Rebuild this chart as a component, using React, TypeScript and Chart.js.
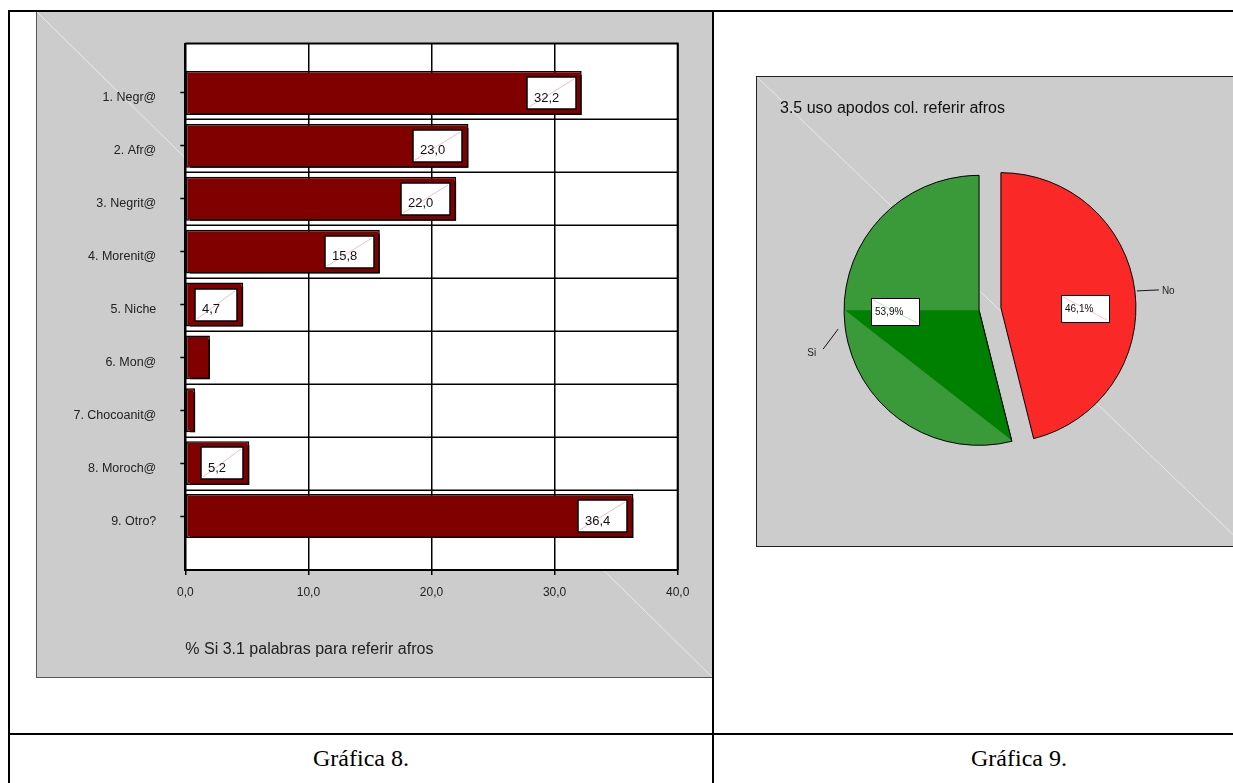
import React, { useEffect, useRef } from 'react';
import { Chart, registerables } from 'chart.js';

Chart.register(...registerables);

// ---- Gráfica 8: palabras para referir afros (% Sí) ----
const barCategories = [
  '1. Negr@',
  '2. Afr@',
  '3. Negrit@',
  '4. Morenit@',
  '5. Niche',
  '6. Mon@',
  '7. Chocoanit@',
  '8. Moroch@',
  '9. Otro?',
];
const barValues = [32.2, 23.0, 22.0, 15.8, 4.7, 2.0, 0.8, 5.2, 36.4];
const barTicks = [0, 10, 20, 30, 40];
const barAxisTitle = '% Si 3.1 palabras para referir afros';

// ---- Gráfica 9: uso de apodos ----
const pieLabels = ['No', 'Si'];
const pieValues = [46.1, 53.9];
const pieColors = ['#fb2828', '#3a9a3a'];
const pieShades = ['#ff0000', '#008000'];
const pieTitle = '3.5 uso apodos col. referir afros';

const captions = ['Gráfica 8.', 'Gráfica 9.'];

const SANS = '"Liberation Sans", Arial, Helvetica, sans-serif';
const SERIF = '"Liberation Serif", "Times New Roman", Times, serif';

const fmt = (v: number) => v.toFixed(1).replace('.', ',');

// Grey panel diagonal, white plot area and its frame
const barFrame = {
  id: 'barFrame',
  beforeDraw(chart: any) {
    const { ctx, chartArea: a, width, height } = chart;
    ctx.save();
    ctx.strokeStyle = 'rgba(255,255,255,0.55)';
    ctx.lineWidth = 1;
    ctx.beginPath();
    ctx.moveTo(0, 0);
    ctx.lineTo(width, height);
    ctx.stroke();
    ctx.fillStyle = '#ffffff';
    ctx.fillRect(a.left, a.top, a.right - a.left, a.bottom - a.top);
    ctx.restore();
  },
  afterDraw(chart: any) {
    const { ctx, chartArea: a } = chart;
    ctx.save();
    ctx.strokeStyle = '#000';
    ctx.lineWidth = 2;
    ctx.beginPath();
    ctx.moveTo(a.left, a.top);
    ctx.lineTo(a.right, a.top);
    ctx.lineTo(a.right, a.bottom);
    ctx.stroke();
    ctx.restore();
  },
};

// Horizontal rules between the category rows
const rowRules = {
  id: 'rowRules',
  beforeDatasetsDraw(chart: any) {
    const { ctx, chartArea: a, scales } = chart;
    const y = scales.y;
    ctx.save();
    ctx.strokeStyle = '#000';
    ctx.lineWidth = 1.5;
    for (let i = 0; i < barCategories.length - 1; i++) {
      const py = Math.round(y.getPixelForValue(i + 0.5)) + 0.25;
      ctx.beginPath();
      ctx.moveTo(a.left, py);
      ctx.lineTo(a.right, py);
      ctx.stroke();
    }
    ctx.restore();
  },
};

// Solid black drop shadow under the bars
const barShadow = {
  id: 'barShadow',
  beforeDatasetDraw(chart: any) {
    const ctx = chart.ctx;
    ctx.save();
    ctx.shadowColor = '#000';
    ctx.shadowOffsetX = 4;
    ctx.shadowOffsetY = 4;
    ctx.shadowBlur = 0;
  },
  afterDatasetDraw(chart: any) {
    chart.ctx.restore();
  },
};

// Boxed value labels inside the bar ends
const valueBoxes = {
  id: 'valueBoxes',
  afterDatasetsDraw(chart: any) {
    const { ctx } = chart;
    const meta = chart.getDatasetMeta(0);
    ctx.save();
    ctx.font = `13px ${SANS}`;
    meta.data.forEach((bar: any, i: number) => {
      const { x, y, base } = bar.getProps(['x', 'y', 'base'], true);
      const text = fmt(barValues[i]);
      const w = Math.round(ctx.measureText(text).width + 24);
      const h = 32;
      if (x - base < w + 14) return;
      const right = Math.round(x - 6);
      const left = right - w;
      const top = Math.round(y - h / 2);
      ctx.fillStyle = '#fff';
      ctx.fillRect(left, top, w, h);
      ctx.strokeStyle = 'rgba(215,110,120,0.55)';
      ctx.lineWidth = 0.8;
      ctx.beginPath();
      ctx.moveTo(left + 2, top + h - 2);
      ctx.lineTo(left + w - 2, top + 2);
      ctx.stroke();
      ctx.strokeStyle = '#000';
      ctx.lineWidth = 1.5;
      ctx.strokeRect(left, top, w, h);
      ctx.fillStyle = '#111';
      ctx.textAlign = 'left';
      ctx.textBaseline = 'middle';
      ctx.fillText(text, left + 7, y + 5);
    });
    ctx.restore();
  },
};

const EXPLODE = 11;

// Pie panel diagonal and title
const pieFrame = {
  id: 'pieFrame',
  beforeDraw(chart: any) {
    const { ctx, width, height } = chart;
    ctx.save();
    ctx.strokeStyle = 'rgba(255,255,255,0.55)';
    ctx.lineWidth = 1;
    ctx.beginPath();
    ctx.moveTo(0, 0);
    ctx.lineTo(width, height);
    ctx.stroke();
    ctx.fillStyle = '#111';
    ctx.font = `16px ${SANS}`;
    ctx.textAlign = 'left';
    ctx.textBaseline = 'middle';
    ctx.fillText(pieTitle, 23, 32);
    ctx.restore();
  },
};

// Exploded slices, with the darker shading wedge of the slice crossing 9 o'clock
const explodedSlices = {
  id: 'explodedSlices',
  beforeDatasetDraw(chart: any, args: any) {
    const { ctx } = chart;
    args.meta.data.forEach((arc: any, i: number) => {
      const { x, y, startAngle, endAngle, outerRadius } = arc.getProps(
        ['x', 'y', 'startAngle', 'endAngle', 'outerRadius'],
        true
      );
      const mid = (startAngle + endAngle) / 2;
      ctx.save();
      ctx.translate(Math.cos(mid) * EXPLODE, Math.sin(mid) * EXPLODE);
      arc.draw(ctx);
      if (startAngle < Math.PI && endAngle > Math.PI) {
        const sx = x + Math.cos(startAngle) * (outerRadius - 1);
        const sy = y + Math.sin(startAngle) * (outerRadius - 1);
        ctx.fillStyle = pieShades[i];
        ctx.beginPath();
        ctx.moveTo(x, y);
        ctx.lineTo(sx, sy);
        ctx.lineTo(x - outerRadius + 1, y);
        ctx.closePath();
        ctx.fill();
        ctx.strokeStyle = '#000';
        ctx.lineWidth = 1;
        ctx.beginPath();
        ctx.moveTo(x, y);
        ctx.lineTo(x + Math.cos(startAngle) * outerRadius, y + Math.sin(startAngle) * outerRadius);
        ctx.stroke();
      }
      ctx.restore();
    });
    return false;
  },
};

// Percentage boxes, leader lines and category names
const pieLabelsPlugin = {
  id: 'pieLabels',
  afterDatasetsDraw(chart: any) {
    const { ctx } = chart;
    const meta = chart.getDatasetMeta(0);
    const total = pieValues.reduce((s, v) => s + v, 0);
    ctx.save();
    meta.data.forEach((arc: any, i: number) => {
      const { x, y, startAngle, endAngle, outerRadius } = arc.getProps(
        ['x', 'y', 'startAngle', 'endAngle', 'outerRadius'],
        true
      );
      const mid = (startAngle + endAngle) / 2;
      const cos = Math.cos(mid);
      const sin = Math.sin(mid);
      const cx = x + cos * EXPLODE;
      const cy = y + sin * EXPLODE;

      // value box, level with the slice apex
      const text = fmt((pieValues[i] / total) * 100) + '%';
      const bw = 48;
      const bh = 27;
      const bx = Math.round(cx + cos * outerRadius * 0.63 - bw / 2);
      const by = Math.round(cy + 1 - bh / 2);
      ctx.fillStyle = '#fff';
      ctx.fillRect(bx, by, bw, bh);
      ctx.strokeStyle = i === 0 ? 'rgba(240,120,120,0.6)' : 'rgba(100,180,100,0.6)';
      ctx.lineWidth = 0.7;
      ctx.beginPath();
      ctx.moveTo(bx + 2, by + 2);
      ctx.lineTo(bx + bw - 2, by + bh - 2);
      ctx.stroke();
      ctx.strokeStyle = '#000';
      ctx.lineWidth = 1;
      ctx.strokeRect(bx + 0.5, by + 0.5, bw, bh);
      ctx.fillStyle = '#111';
      ctx.font = `10px ${SANS}`;
      ctx.textAlign = 'left';
      ctx.textBaseline = 'middle';
      ctx.fillText(text, bx + 4, by + bh / 2 + 1);

      // leader line and name
      const ex = cx + cos * (outerRadius + 2);
      const ey = cy + sin * (outerRadius + 2);
      const right = cos >= 0;
      const lx = right ? ex + 22 : ex - 20;
      const ly = right ? ey - 1 : ey + 22;
      ctx.strokeStyle = '#111';
      ctx.lineWidth = 1;
      ctx.beginPath();
      ctx.moveTo(right ? ex : ex - 5, right ? ey : ey + 2);
      ctx.lineTo(lx, ly);
      ctx.stroke();
      ctx.fillStyle = '#222';
      ctx.textAlign = right ? 'left' : 'right';
      ctx.fillText(pieLabels[i], right ? lx + 3 : lx - 7, right ? ly + 1 : ly + 4);
    });
    ctx.restore();
  },
};

function BarChart() {
  const ref = useRef<HTMLCanvasElement | null>(null);
  useEffect(() => {
    if (!ref.current) return;
    const chart = new Chart(ref.current, {
      type: 'bar',
      data: {
        datasets: [
          {
            data: barValues.map((v, i) => ({ x: v, y: i })),
            backgroundColor: '#800000',
            borderColor: '#000',
            borderWidth: 1.5,
            borderSkipped: false,
            barPercentage: 0.83,
            categoryPercentage: 1,
          } as any,
        ],
      },
      options: {
        indexAxis: 'y',
        animation: false,
        responsive: false,
        maintainAspectRatio: false,
        layout: { padding: { left: 0, top: 31, right: 34.3, bottom: 7 } },
        plugins: { legend: { display: false }, tooltip: { enabled: false } },
        scales: {
          x: {
            type: 'linear',
            position: 'bottom',
            min: 0,
            max: 40,
            offset: false,
            afterBuildTicks: (axis: any) => {
              axis.ticks = barTicks.map((v) => ({ value: v }));
            },
            afterFit: (axis: any) => {
              axis.height = 100;
            },
            ticks: {
              callback: (v: any) => fmt(Number(v)),
              font: { family: SANS, size: 12 },
              color: '#222',
              padding: 10.8,
              maxRotation: 0,
              autoSkip: false,
            },
            grid: {
              offset: false,
              color: '#000',
              lineWidth: 1.5,
              tickLength: 5,
              tickColor: '#000',
              tickWidth: 1.5,
            },
            border: { display: true, color: '#000', width: 2 },
            title: {
              display: true,
              text: barAxisTitle,
              align: 'start',
              font: { family: SANS, size: 16 },
              color: '#222',
              padding: { top: 0, bottom: 10.4 },
            },
          },
          y: {
            type: 'linear',
            reverse: true,
            offset: false,
            min: -0.935,
            max: 9.02,
            afterBuildTicks: (axis: any) => {
              axis.ticks = barCategories.map((_, i) => ({ value: i }));
            },
            afterFit: (axis: any) => {
              axis.width = 148.3;
            },
            ticks: {
              callback: (v: any) => barCategories[Number(v)] ?? '',
              font: { family: SANS, size: 12.5 },
              color: '#222',
              padding: 24,
              labelOffset: 5,
              autoSkip: false,
            },
            grid: {
              offset: false,
              drawOnChartArea: false,
              drawTicks: true,
              tickLength: 5,
              tickColor: '#000',
              tickWidth: 1.5,
            },
            border: { display: true, color: '#000', width: 2 },
          },
        },
      } as any,
      plugins: [barFrame, rowRules, barShadow, valueBoxes],
    });
    return () => chart.destroy();
  }, []);
  return (
    <canvas
      ref={ref}
      width={675}
      height={665}
      style={{ position: 'absolute', left: 37, top: 12, width: 675, height: 665 }}
    />
  );
}

function PieChart() {
  const ref = useRef<HTMLCanvasElement | null>(null);
  useEffect(() => {
    if (!ref.current) return;
    const chart = new Chart(ref.current, {
      type: 'pie',
      data: {
        labels: pieLabels,
        datasets: [
          {
            data: pieValues,
            backgroundColor: pieColors,
            borderColor: '#000',
            borderWidth: 1,
            radius: 135,
          } as any,
        ],
      },
      options: {
        animation: false,
        responsive: false,
        maintainAspectRatio: false,
        layout: { padding: { left: 0, top: 0, right: 22, bottom: 5 } },
        plugins: { legend: { display: false }, tooltip: { enabled: false } },
      } as any,
      plugins: [pieFrame, explodedSlices, pieLabelsPlugin],
    });
    return () => chart.destroy();
  }, []);
  return (
    <canvas
      ref={ref}
      width={488}
      height={469}
      style={{ position: 'absolute', left: 757, top: 77, width: 488, height: 469 }}
    />
  );
}

const rule = (left: number, top: number, width: number, height: number) => (
  <div style={{ position: 'absolute', left, top, width, height, background: '#000' }} />
);

const captionStyle = {
  position: 'absolute' as const,
  top: 735,
  height: 46,
  lineHeight: '46px',
  textAlign: 'center' as const,
  fontFamily: SERIF,
  fontSize: 24,
  color: '#000',
};

export default function App() {
  return (
    <div
      style={{
        position: 'absolute',
        left: 0,
        top: 0,
        width: 1233,
        height: 783,
        overflow: 'hidden',
        background: '#fff',
      }}
    >
      {/* grey chart panels */}
      <div
        style={{
          position: 'absolute',
          left: 36,
          top: 12,
          width: 676,
          height: 666,
          background: '#cccccc',
          borderLeft: '1px solid #555',
          borderBottom: '1px solid #555',
          boxSizing: 'border-box',
        }}
      />
      <div
        style={{
          position: 'absolute',
          left: 756,
          top: 76,
          width: 490,
          height: 471,
          background: '#cccccc',
          border: '1px solid #222',
          boxSizing: 'border-box',
        }}
      />
      <BarChart />
      <PieChart />

      {/* table rules */}
      {rule(8, 10, 1320, 2)}
      {rule(8, 10, 2, 773)}
      {rule(712, 10, 2, 773)}
      {rule(8, 733, 1320, 2)}

      {/* captions */}
      <div style={{ ...captionStyle, left: 10, width: 702 }}>{captions[0]}</div>
      <div style={{ ...captionStyle, left: 714, width: 610 }}>{captions[1]}</div>
    </div>
  );
}
